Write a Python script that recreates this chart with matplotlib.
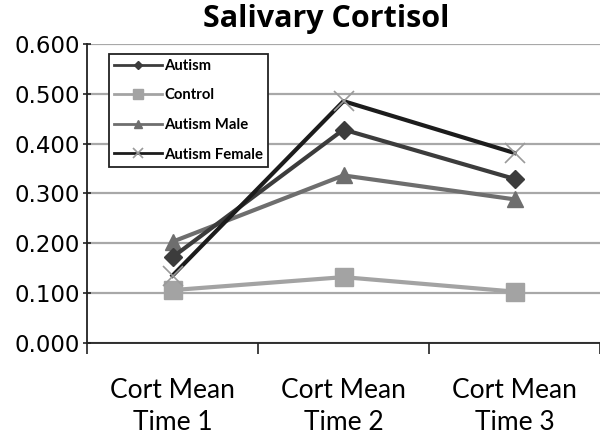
import matplotlib
matplotlib.use("Agg")
import matplotlib.pyplot as plt
from matplotlib.ticker import FixedLocator, NullFormatter

# data
categories = ["Cort Mean\nTime 1", "Cort Mean\nTime 2", "Cort Mean\nTime 3"]
autism = [0.172, 0.428, 0.329]
control = [0.106, 0.132, 0.103]
autism_male = [0.203, 0.336, 0.288]
autism_female = [0.135, 0.485, 0.381]
y_ticks = [0.0, 0.1, 0.2, 0.3, 0.4, 0.5, 0.6]

fig = plt.figure(figsize=(6.0, 4.38), dpi=100)
ax = fig.add_axes([0.145, 0.217, 0.855, 0.683])

x = list(range(len(categories)))
ax.plot(x, autism, color="#3c3c3c", lw=3, marker="D", ms=9, label="Autism", zorder=4)
ax.plot(x, control, color="#a3a3a3", lw=3, marker="s", ms=13, label="Control", zorder=3)
ax.plot(x, autism_male, color="#6e6e6e", lw=3, marker="^", ms=12, label="Autism Male", zorder=3)
ax.plot(x, autism_female, color="#1c1c1c", lw=3, marker="x", ms=14, mew=1.2,
        mec="#9a9a9a", label="Autism Female", zorder=5)

ax.set_xlim(-0.5, 2.5)
ax.set_ylim(0, 0.6)
ax.set_yticks(y_ticks)
ax.set_yticklabels([f"{v:.3f}" for v in y_ticks], fontsize=16.5, family="DejaVu Sans")
ax.yaxis.grid(True, color="#a8a8a8", lw=1.6)
ax.set_axisbelow(True)

ax.set_xticks(x)
ax.set_xticklabels(categories, fontsize=19, family="Lato", linespacing=1.35)
ax.tick_params(axis="x", which="major", length=0, pad=25)
ax.xaxis.set_minor_locator(FixedLocator([-0.5, 0.5, 1.5, 2.5]))
ax.xaxis.set_minor_formatter(NullFormatter())
ax.tick_params(axis="x", which="minor", length=8, width=1.2, color="#222222")
ax.tick_params(axis="y", length=6, width=1.2, direction="inout", color="#222222", pad=2)

for side in ("top", "right"):
    ax.spines[side].set_visible(False)
for side in ("left", "bottom"):
    ax.spines[side].set_color("#222222")
    ax.spines[side].set_linewidth(1.3)

ax.set_title("Salivary Cortisol", fontsize=22, family="Open Sans", fontweight="bold",
             pad=12, x=0.467)

leg = ax.legend(loc="upper left", bbox_to_anchor=(0.043, 0.967), frameon=True,
                fancybox=False, edgecolor="#222222", framealpha=1,
                prop={"family": "Lato", "weight": "bold", "size": 10.7},
                handlelength=3.2, markerscale=0.5, labelspacing=1.05,
                borderpad=0.35, handletextpad=0.15, borderaxespad=0)
leg.get_frame().set_linewidth(1.3)
for h in leg.get_lines():
    h.set_linewidth(2)

fig.savefig("out.png", dpi=100)
